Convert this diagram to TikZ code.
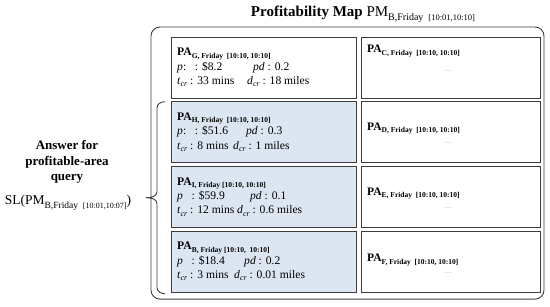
\documentclass[tikz,border=0pt]{standalone}
\usepackage{fontspec}
\setmainfont{Liberation Serif}
\usepackage{xcolor}
\usetikzlibrary{positioning}
\definecolor{hitblue}{HTML}{DCE6F2}
\definecolor{edgegray}{HTML}{3C3C3C}
\newcommand{\pasub}[1]{\textbf{PA}\raisebox{-0.45ex}{\fontsize{7.5}{8}\selectfont\textbf{#1}}}
\newcommand{\crsub}[1]{\textit{#1}\raisebox{-0.45ex}{\fontsize{8}{8}\selectfont\textit{cr}}}
\newcommand{\paline}[3]{\makebox[#1][l]{#2}#3}
\tikzset{
  pabox/.style={draw=edgegray, line width=0.9pt, minimum width=185pt,
                minimum height=61pt, inner sep=0pt, outer sep=0pt},
  hitbox/.style={pabox, fill=hitblue},
  restbox/.style={pabox, minimum width=179pt},
  patext/.style={align=left, inner sep=0pt, anchor=west,
                 font=\fontsize{11.6}{14.3}\selectfont},
  resttext/.style={inner sep=0pt, anchor=west, font=\fontsize{11.5}{13}\selectfont},
  restdots/.style={inner sep=0pt, text=gray, font=\fontsize{7}{8}\selectfont},
  mapframe/.style={draw=edgegray, line width=0.9pt, rounded corners=9pt},
  answerbrace/.style={draw=edgegray, line width=0.9pt},
}

\begin{document}
\begin{tikzpicture}[x=1pt, y=1pt, node distance=3.7pt and 5pt]
\useasboundingbox (0,0) rectangle (550,-307);
% left column: the area that answers the query, then the hits
\node[pabox] (paG) at (263.5,-67.5) {};
\node[hitbox, below=of paG] (paH) {};
\node[hitbox, below=of paH] (paI) {};
\node[hitbox, below=of paI] (paB) {};
% right column
\node[restbox, right=of paG] (paC) {};
\node[restbox, right=of paH] (paD) {};
\node[restbox, right=of paI] (paE) {};
\node[restbox, right=of paB] (paF) {};
\draw[mapframe] ([xshift=-20pt,yshift=10pt]paG.north west)
  rectangle ([xshift=4pt,yshift=-7pt]paF.south east);
\node (title) at (363,-14) {\fontsize{15}{18}\selectfont\textbf{Profitability Map}
  PM\raisebox{-0.6ex}{\fontsize{10}{10}\selectfont B,Friday\ \ \fontsize{8.5}{9}\selectfont[10:01,10:10]}};
% texts of the left column
\node[patext] (txtG) at ([xshift=6pt]paG.west) {\pasub{G, Friday\ \ [10:10, 10:10]}\\
  \paline{76pt}{\textit{p}:\ \ \ : \$8.2}{\textit{pd} : 0.2}\\
  \paline{70pt}{\crsub{t}\ : 33 mins}{\crsub{d}\ : 18 miles}};
\node[patext] (txtH) at ([xshift=6pt]paH.west) {\pasub{H, Friday\ \ [10:10, 10:10]}\\
  \paline{69pt}{\textit{p}:\ \ \ : \$51.6}{\textit{pd} : 0.3}\\
  \paline{56pt}{\crsub{t}\ : 8 mins}{\crsub{d}\ : 1 miles}};
\node[patext] (txtI) at ([xshift=6pt]paI.west) {\pasub{I, Friday [10:10, 10:10]}\\
  \paline{73pt}{\textit{p}\ \ \ : \$59.9}{\textit{pd} : 0.1}\\
  \paline{60pt}{\crsub{t}\ : 12 mins}{\crsub{d}\ : 0.6 miles}};
\node[patext] (txtB) at ([xshift=6pt]paB.west) {\pasub{B, Friday [10:10,\ \ 10:10]}\\
  \paline{67pt}{\textit{p}\ \ \ : \$18.4}{\textit{pd}\ : 0.2}\\
  \paline{57pt}{\crsub{t}\ : 3 mins}{\crsub{d}\ : 0.01 miles}};
% texts of the right column
\node[resttext] (txtC) at ([xshift=6pt,yshift=-14pt]paC.north west) {\pasub{C, Friday\ \ [10:10, 10:10]}};
\node[restdots] (dotsC) at ([xshift=87pt,yshift=-34pt]paC.north west) {\ldots};
\node[resttext] (txtD) at ([xshift=6pt,yshift=-27pt]paD.north west) {\pasub{D, Friday\ \ [10:10, 10:10]}};
\node[restdots] (dotsD) at ([xshift=87pt,yshift=-41pt]paD.north west) {\ldots};
\node[resttext] (txtE) at ([xshift=6pt,yshift=-27pt]paE.north west) {\pasub{E, Friday\ \ [10:10, 10:10]}};
\node[restdots] (dotsE) at ([xshift=87pt,yshift=-42pt]paE.north west) {\ldots};
\node[resttext] (txtF) at ([xshift=6pt,yshift=-29pt]paF.north west) {\pasub{F, Friday\ \ [10:10, 10:10]}};
\node[restdots] (dotsF) at ([xshift=87pt,yshift=-42pt]paF.north west) {\ldots};
% the answer: a narrow brace along the hits
\draw[answerbrace] ([xshift=-6pt,yshift=0pt]paH.north west)
  to[out=180,in=90] ++(-8,-6) -- ++(0,-84)
  to[out=-90,in=0] ++(-11,-6) coordinate (bracetip)
  to[out=0,in=90] ++(11,-6) -- ++(0,-84)
  to[out=-90,in=180] ++(8,-6);
\node[align=center, font=\fontsize{13}{15.5}\selectfont\bfseries] (answer)
  at (67,-162) {Answer for\\profitable-area\\query};
\node[font=\fontsize{13.5}{16}\selectfont] (slquery) at (68,-203)
  {SL(PM\raisebox{-0.6ex}{\fontsize{9.5}{10}\selectfont B,Friday\ \ \fontsize{8}{9}\selectfont[10:01,10:07]})};
\end{tikzpicture}
\end{document}
